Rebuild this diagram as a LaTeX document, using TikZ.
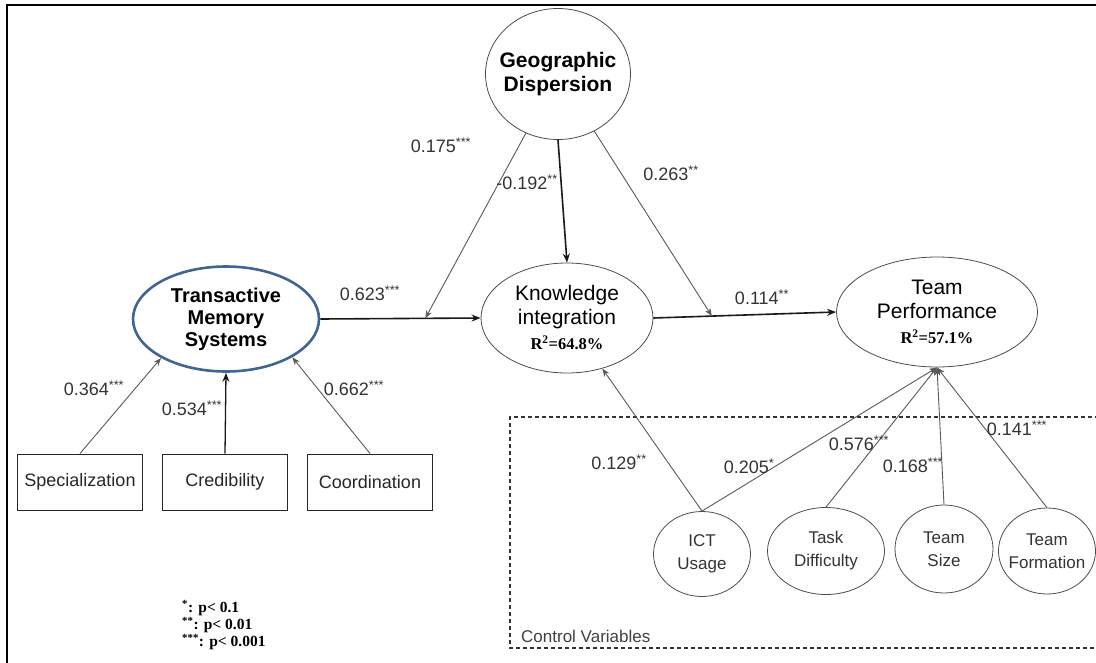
\documentclass[tikz,border=0pt]{standalone}
\usepackage{fontspec}
\setmainfont{Liberation Sans}
\newfontfamily\serifR{Liberation Serif}
\newcommand\rsqfont{\serifR\bfseries\fontsize{16.5}{18}\selectfont}
\usetikzlibrary{shapes.geometric,arrows.meta,calc}
\definecolor{tmsblue}{HTML}{3F6590}
\definecolor{lblgray}{HTML}{333333}
\begin{document}
\begin{tikzpicture}[x=1pt,y=-1pt,
  lat/.style={ellipse,draw=black!70,line width=0.8pt,inner sep=-14pt,align=center,
    font=\fontsize{21}{24}\selectfont},
  ctrl/.style={ellipse,draw=black!70,line width=0.8pt,inner sep=-14pt,align=center,
    font=\fontsize{17}{23}\selectfont,text=black!80},
  ind/.style={rectangle,draw=black!85,line width=1pt,minimum width=125pt,minimum height=56pt,
    inner sep=0pt,font=\fontsize{18}{20}\selectfont,text=black!85},
  thinarr/.style={draw=black!65,line width=0.9pt,-{Stealth[length=8pt,width=6pt]}},
  thickarr/.style={draw=black!90,line width=1.6pt,-{Stealth[length=9pt,width=7pt]}},
  lbl/.style={font=\fontsize{18}{20}\selectfont,text=lblgray,inner sep=0pt},
  legend/.style={font=\serifR\bfseries\fontsize{15.5}{16}\selectfont,anchor=west,inner sep=0pt}
]
\useasboundingbox (0,0) rectangle (1096,662);
\clip (0,0) rectangle (1096,662);
% outer frame
\draw[line width=2.2pt] (7,700) -- (7,5) -- (1120,5);
% control variables box
\draw[black!80,line width=1.4pt,dash pattern=on 4pt off 3pt] (1120,417) -- (510,417) -- (510,648) -- (1120,648);
\node[anchor=west,inner sep=0pt,font=\fontsize{17}{20}\selectfont,text=black!75] (cvlabel) at (521,636) {Control Variables};

% latent constructs
\node[lat,minimum width=145pt,minimum height=131pt,font=\bfseries\fontsize{21}{24}\selectfont] (GD) at (558,74) {Geographic\\Dispersion};
\node[lat,draw=tmsblue,line width=2.6pt,minimum width=186pt,minimum height=105pt,font=\bfseries\fontsize{20}{22}\selectfont] (TMS) at (226,319) {Transactive\\Memory\\Systems};
\node[lat,minimum width=172pt,minimum height=110pt] (KI) at (567,318) {Knowledge\\integration\\[1pt]{\rsqfont R\textsuperscript{2}=64.8\%}};
\node[lat,minimum width=201pt,minimum height=110pt] (TP) at (937,312) {Team\\Performance\\[1pt]{\rsqfont R\textsuperscript{2}=57.1\%}};

% indicators
\node[ind] (SP) at (80,482) {Specialization};
\node[ind] (CR) at (225,482) {Credibility};
\node[ind] (CO) at (370,482) {Coordination};

% control variables
\node[ctrl,minimum width=97pt,minimum height=85pt] (ICT) at (702,554) {ICT\\Usage};
\node[ctrl,minimum width=117pt,minimum height=87pt] (TD) at (826,551) {Task\\Difficulty};
\node[ctrl,minimum width=98pt,minimum height=88pt] (TS) at (944,549) {Team\\Size};
\node[ctrl,minimum width=97pt,minimum height=86pt] (TF) at (1047,551) {Team\\Formation};

% points on paths (moderation)
\coordinate (m1) at ($(TMS.east)!0.655!(KI.west)$);
\coordinate (m2) at ($(KI.east)!0.32!(TP.west)$);

% structural paths
\draw[thickarr] (TMS.east) -- (KI.west);
\draw[thickarr] (KI.east) -- (TP.west);
\draw[thickarr] (GD.south) -- (KI.north);
\draw[thinarr] (GD) -- (m1);
\draw[thinarr] (GD) -- (m2);

% measurement paths
\draw[thinarr] (SP.north) -- (TMS.211);
\draw[thickarr,line width=1.3pt] (CR.north) -- (TMS.south);
\draw[thinarr] (CO.north) -- (TMS.330);

% control paths
\draw[thinarr] (ICT.north) -- (KI);
\draw[thinarr] (ICT.north) -- (TP.south);
\draw[thinarr] (TD.north) -- (TP.south);
\draw[thinarr] (TS.north) -- (TP.south);
\draw[thinarr] (TF.north) -- (TP.south);

% path labels
\node[lbl] (l1) at (94,388) {0.364\textsuperscript{***}};
\node[lbl] (l2) at (192,408) {0.534\textsuperscript{***}};
\node[lbl] (l3) at (354,388) {0.662\textsuperscript{***}};
\node[lbl] (l4) at (370,293) {0.623\textsuperscript{***}};
\node[lbl] (l5) at (441,145) {0.175\textsuperscript{***}};
\node[lbl] (l6) at (527,182) {-0.192\textsuperscript{**}};
\node[lbl] (l7) at (671,173) {0.263\textsuperscript{**}};
\node[lbl] (l8) at (762,297) {0.114\textsuperscript{**}};
\node[lbl] (l9) at (619,462) {0.129\textsuperscript{**}};
\node[lbl] (l10) at (749,466) {0.205\textsuperscript{*}};
\node[lbl] (l11) at (859,443) {0.576\textsuperscript{***}};
\node[lbl] (l12) at (913,465) {0.168\textsuperscript{***}};
\node[lbl] (l13) at (1017,428) {0.141\textsuperscript{***}};

% legend
\node[legend] (lg1) at (182,608) {\textsuperscript{*}: p< 0.1};
\node[legend] (lg2) at (182,625) {\textsuperscript{**}: p< 0.01};
\node[legend] (lg3) at (182,642) {\textsuperscript{***}: p< 0.001};
\end{tikzpicture}
\end{document}
